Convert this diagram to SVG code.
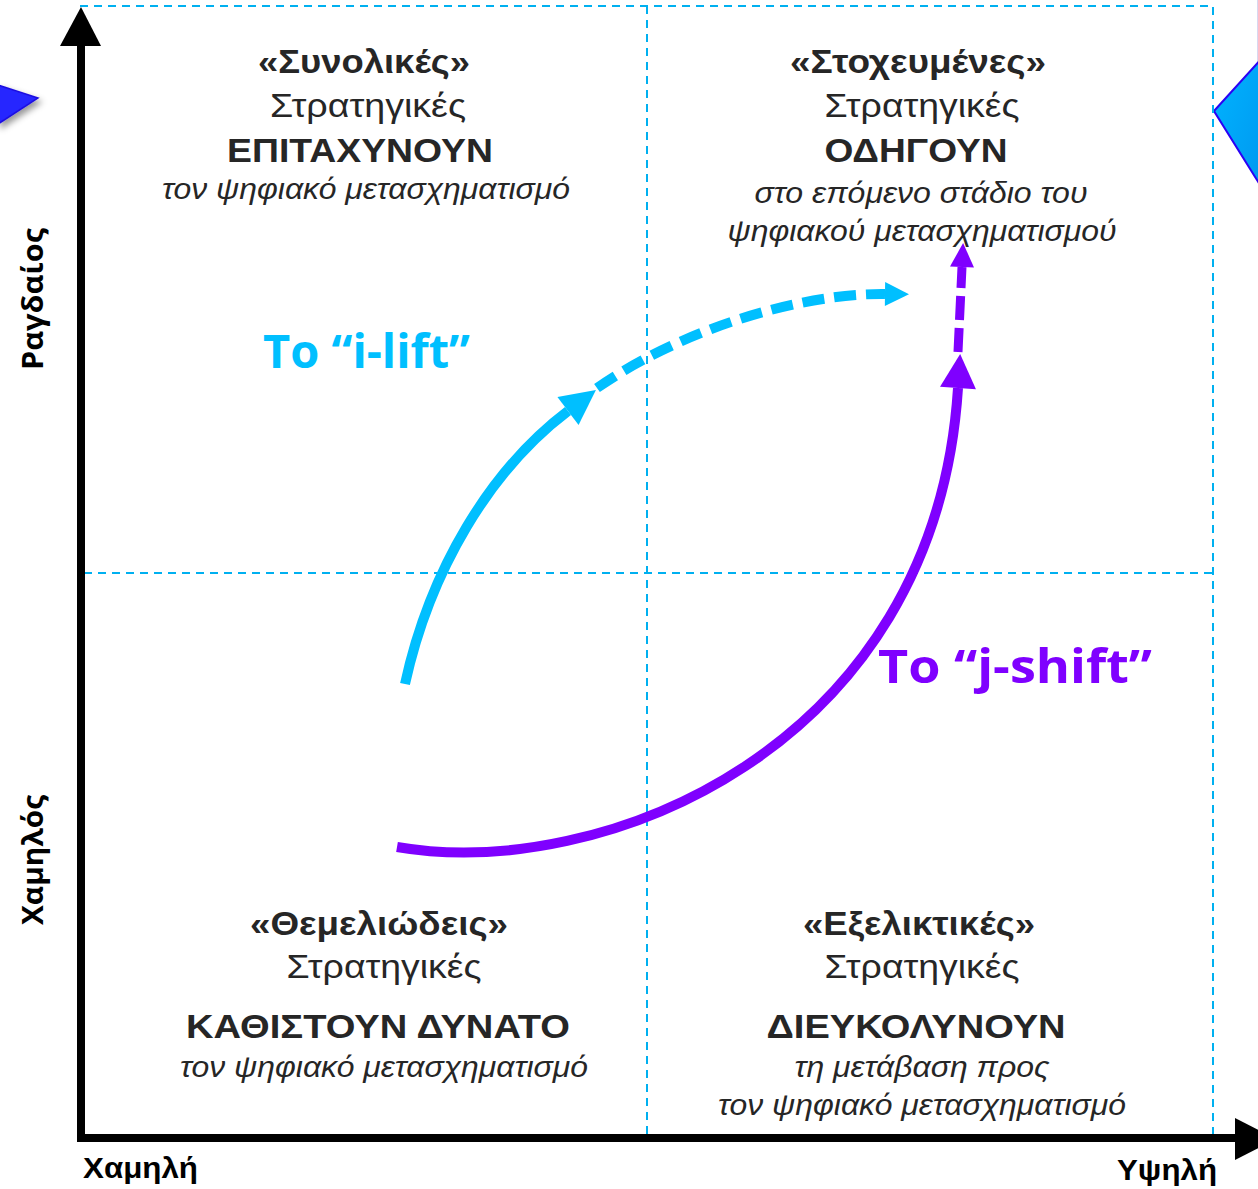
<svg xmlns="http://www.w3.org/2000/svg" width="1258" height="1189" viewBox="0 0 1258 1189">
  <style>
    .grid { fill: none; stroke: #00B0F0; stroke-width: 2; stroke-dasharray: 8 6; }
    .axis { fill: none; stroke: #000; stroke-width: 8; }
    .t { font-family: "Liberation Sans", Arial, sans-serif; fill: #262626; text-anchor: middle; }
    .h { font-size: 33px; font-weight: bold; }
    .s { font-size: 33px; }
    .v { font-size: 33px; font-weight: bold; }
    .i { font-size: 30px; font-style: italic; }
    .ax { font-family: "Open Sans", "Liberation Sans", sans-serif; font-weight: bold; font-size: 28px; fill: #000; }
    .axb { font-family: "Liberation Sans", Arial, sans-serif; font-weight: bold; font-size: 29px; fill: #000; }
    .lbl { font-family: "Open Sans", "Liberation Sans", sans-serif; font-weight: bold; font-size: 47px; }
  </style>
  <defs>
    <marker id="headCyan" markerUnits="userSpaceOnUse" viewBox="0 0 35 35" markerWidth="35" markerHeight="35" refX="0" refY="17.5" orient="auto" overflow="visible">
      <path d="M0,0 L35,17.5 L0,35 z" fill="#00BFFF"/>
    </marker>
    <marker id="headCyanS" markerUnits="userSpaceOnUse" viewBox="0 0 24 24" markerWidth="24" markerHeight="24" refX="0" refY="12" orient="auto" overflow="visible">
      <path d="M0,0 L24,12 L0,24 z" fill="#00BFFF"/>
    </marker>
    <marker id="headPurple" markerUnits="userSpaceOnUse" viewBox="0 0 34 36" markerWidth="34" markerHeight="36" refX="0" refY="18" orient="auto" overflow="visible">
      <path d="M0,0 L34,18 L0,36 z" fill="#7F00FF"/>
    </marker>
    <marker id="headPurpleS" markerUnits="userSpaceOnUse" viewBox="0 0 24 24" markerWidth="24" markerHeight="24" refX="0" refY="12" orient="auto" overflow="visible">
      <path d="M0,0 L24,12 L0,24 z" fill="#7F00FF"/>
    </marker>
    <filter id="shadow" x="-50%" y="-50%" width="200%" height="200%">
      <feDropShadow dx="3" dy="4" stdDeviation="3" flood-color="#000" flood-opacity="0.4"/>
    </filter>
    <linearGradient id="diaFill" x1="0" y1="0" x2="1" y2="1">
      <stop offset="0" stop-color="#00B4FF"/>
      <stop offset="1" stop-color="#0098F0"/>
    </linearGradient>
  </defs>

  <rect width="1258" height="1189" fill="#fff"/>

  <!-- decorative edge shapes -->
  <g id="left-triangle">
    <polygon points="-2,85 38,98 -2,124" fill="#2525FF" stroke="#1E10E0" stroke-width="1.5" filter="url(#shadow)"/>
  </g>
  <g id="right-diamond">
    <line x1="1257.5" y1="0" x2="1257.5" y2="64" stroke="#D8D8F0" stroke-width="1"/>
    <polygon points="1214,111 1262,58 1262,188" fill="url(#diaFill)" stroke="#2A00F5" stroke-width="2"/>
  </g>

  <!-- grid -->
  <g id="grid">
    <path class="grid" d="M80,6 H1213 V1138"/>
    <path class="grid" d="M647,6 V1138"/>
    <path class="grid" d="M84,573 H1213"/>
  </g>

  <!-- axes -->
  <g id="axes">
    <line class="axis" x1="81" y1="1142" x2="81" y2="44"/>
    <polygon points="60,46 81,7 101,46" fill="#000"/>
    <line class="axis" x1="77" y1="1138" x2="1236" y2="1138"/>
    <polygon points="1235,1118 1276,1139 1235,1160" fill="#000"/>
    <text class="axb" x="83" y="1178" textLength="115" lengthAdjust="spacingAndGlyphs">Χαμηλή</text>
    <text class="axb" x="1117" y="1180" textLength="100" lengthAdjust="spacingAndGlyphs">Υψηλή</text>
    <text class="ax" transform="translate(43,299) rotate(-90)" text-anchor="middle" textLength="142" lengthAdjust="spacingAndGlyphs">Ραγδαίος</text>
    <text class="ax" transform="translate(43,860) rotate(-90)" text-anchor="middle" textLength="130" lengthAdjust="spacingAndGlyphs">Χαμηλός</text>
  </g>

  <!-- quadrant nodes -->
  <g id="q-top-left">
    <text class="t h" x="364" y="73" textLength="212" lengthAdjust="spacingAndGlyphs">«Συνολικές»</text>
    <text class="t s" x="368" y="117" textLength="196" lengthAdjust="spacingAndGlyphs">Στρατηγικές</text>
    <text class="t v" x="360" y="162" textLength="266" lengthAdjust="spacingAndGlyphs">ΕΠΙΤΑΧΥΝΟΥΝ</text>
    <text class="t i" x="366" y="199" textLength="408" lengthAdjust="spacingAndGlyphs">τον ψηφιακό μετασχηματισμό</text>
  </g>
  <g id="q-top-right">
    <text class="t h" x="918" y="73" textLength="256" lengthAdjust="spacingAndGlyphs">«Στοχευμένες»</text>
    <text class="t s" x="922" y="117" textLength="195" lengthAdjust="spacingAndGlyphs">Στρατηγικές</text>
    <text class="t v" x="916" y="162" textLength="183" lengthAdjust="spacingAndGlyphs">ΟΔΗΓΟΥΝ</text>
    <text class="t i" x="921" y="203" textLength="333" lengthAdjust="spacingAndGlyphs">στο επόμενο στάδιο του</text>
    <text class="t i" x="922" y="241" textLength="389" lengthAdjust="spacingAndGlyphs">ψηφιακού μετασχηματισμού</text>
  </g>
  <g id="q-bottom-left">
    <text class="t h" x="379" y="935" textLength="258" lengthAdjust="spacingAndGlyphs">«Θεμελιώδεις»</text>
    <text class="t s" x="384" y="978" textLength="195" lengthAdjust="spacingAndGlyphs">Στρατηγικές</text>
    <text class="t v" x="378" y="1038" textLength="384" lengthAdjust="spacingAndGlyphs">ΚΑΘΙΣΤΟΥΝ ΔΥΝΑΤΟ</text>
    <text class="t i" x="384" y="1077" textLength="408" lengthAdjust="spacingAndGlyphs">τον ψηφιακό μετασχηματισμό</text>
  </g>
  <g id="q-bottom-right">
    <text class="t h" x="919" y="935" textLength="232" lengthAdjust="spacingAndGlyphs">«Εξελικτικές»</text>
    <text class="t s" x="922" y="978" textLength="195" lengthAdjust="spacingAndGlyphs">Στρατηγικές</text>
    <text class="t v" x="916" y="1038" textLength="299" lengthAdjust="spacingAndGlyphs">ΔΙΕΥΚΟΛΥΝΟΥΝ</text>
    <text class="t i" x="922" y="1077" textLength="255" lengthAdjust="spacingAndGlyphs">τη μετάβαση προς</text>
    <text class="t i" x="922" y="1115" textLength="408" lengthAdjust="spacingAndGlyphs">τον ψηφιακό μετασχηματισμό</text>
  </g>

  <!-- connectors -->
  <g id="connectors">
    <path d="M405,684 C430,570 490,470 568,411" fill="none" stroke="#00BFFF" stroke-width="10" marker-end="url(#headCyan)"/>
    <path d="M597,388 C680,330 800,293 885,294" fill="none" stroke="#00BFFF" stroke-width="10" stroke-dasharray="22 10" marker-end="url(#headCyanS)"/>
    <path d="M397,847 C600,882 935,750 958,388" fill="none" stroke="#7F00FF" stroke-width="10" marker-end="url(#headPurple)"/>
    <path d="M958,352 L962,267" fill="none" stroke="#7F00FF" stroke-width="9" stroke-dasharray="24 8" marker-end="url(#headPurpleS)"/>
  </g>

  <g id="label-ilift">
    <text class="lbl" x="263" y="368" fill="#00BFFF" textLength="207" lengthAdjust="spacingAndGlyphs">To “i-lift”</text>
  </g>
  <g id="label-jshift">
    <text class="lbl" x="878" y="683" fill="#7F00FF" textLength="274" lengthAdjust="spacingAndGlyphs">To “j-shift”</text>
  </g>
</svg>
